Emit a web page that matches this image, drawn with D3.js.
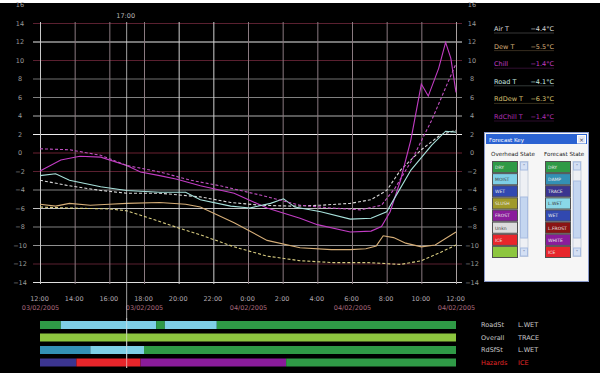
<!DOCTYPE html>
<html>
<head>
<meta charset="utf-8">
<script src="https://cdn.jsdelivr.net/npm/d3@7"></script>
<style>
  html, body { margin: 0; padding: 0; background: #fff; }
  svg { display: block; }
  text { font-family: "DejaVu Sans", "Liberation Sans", sans-serif; }
</style>
</head>
<body>
<svg id="chart" width="600" height="373"></svg>
<script>
// ---- axis ticks and labels ----
const hourTicks = [0, 2, 4, 6, 8, 10, 12, 14, 16, 18, 20, 22, 24];
const timeLabels = ["12:00", "14:00", "16:00", "18:00", "20:00", "22:00", "0:00",
                    "2:00", "4:00", "6:00", "8:00", "10:00", "12:00"];
const dateTicks = [0, 6, 12, 18, 24];
const dateLabels = ["03/02/2005", "03/02/2005", "04/02/2005", "04/02/2005", "04/02/2005"];
const gridTemps = [14, 12, 10, 8, 6, 4, 2, 0, -2, -4, -6, -8, -10, -12, -14];
const tempLabels = [16, 14, 12, 10, 8, 6, 4, 2, 0, -2, -4, -6, -8, -10, -12, -14];

// cursor position (hours after 12:00 on 03/02)
const cursorHour = 5;
const cursorLabel = "17:00";

// ---- temperature series: [hours after 12:00, °C] ----
const airT = [[0,-3.0],[1.7,-3.6],[3.5,-4.1],[5,-4.4],[6.9,-4.4],[9.25,-4.8],[11,-5.4],[12.7,-5.7],
  [14.5,-5.8],[16.2,-5.7],[17.9,-5.5],[19.1,-5.1],[20,-4.1],[20.8,-1.9],[22,0.3],[23.1,1.9],[24,2.4]];
const dewT = [[0,-5.6],[0.9,-5.8],[1.7,-5.5],[2.9,-5.7],[4,-5.6],[5,-5.5],[6.9,-5.4],[8.4,-5.6],
  [9.25,-5.9],[11.2,-7.6],[13.1,-9.5],[15,-10.3],[16.8,-10.5],[17.9,-10.5],[18.8,-10.4],[19.4,-10.1],
  [19.8,-9.0],[20.4,-9.2],[21.1,-9.8],[22,-10.2],[22.8,-10.0],[24,-8.6]];
const chill = [[0,-2.0],[1.2,-0.8],[2.3,-0.4],[3.5,-0.5],[5,-1.4],[5.8,-2.1],[6.9,-2.5],[7.9,-2.9],
  [9.25,-3.6],[11.2,-4.4],[13.1,-6.0],[15,-7.1],[16,-7.8],[17.9,-8.6],[19.1,-8.5],[19.7,-8.0],
  [20.2,-6.4],[20.8,-3.0],[21.4,1.4],[22,7.4],[22.4,6.1],[23,9.1],[23.4,11.9],[23.7,10.2],[24,6.5]];
const roadT = [[0,-2.5],[0.9,-2.3],[1.7,-3.0],[3.5,-3.7],[5,-4.1],[6.9,-4.3],[8.4,-4.3],[9.25,-5.1],
  [11,-5.8],[12.1,-6.0],[13.3,-5.5],[14.05,-5.0],[14.7,-5.9],[16.2,-6.4],[17.9,-7.2],[19.1,-7.1],
  [20,-6.4],[20.5,-4.8],[21.4,-1.9],[22.6,0.8],[23.4,2.3],[24,2.2]];
const rdDewT = [[0,-5.9],[1.7,-6.0],[4,-6.1],[5,-6.3],[6.65,-7.3],[7.9,-8.1],[9.25,-8.9],[11.2,-10.2],
  [13.1,-11.2],[15,-11.7],[16.9,-11.9],[18.9,-11.9],[20.8,-12.1],[22,-11.7],[23.1,-10.8],[24,-10.0]];
const rdChillT = [[0,0.4],[1.7,0.3],[3.5,-0.3],[5,-1.4],[6.9,-2.1],[8.7,-3.0],[10.4,-3.6],[12.7,-4.6],
  [15,-5.7],[16.8,-6.0],[18.5,-6.2],[19.7,-5.7],[20.5,-3.8],[21.4,-1.0],[22.6,3.5],[23.4,7.0],[24,9.6]];

const seriesNames = ["Air T", "Dew T", "Chill", "Road T", "RdDew T", "RdChill T"];
const seriesData = [airT, dewT, chill, roadT, rdDewT, rdChillT];

// ---- state strips: [start hour, end hour, state] ----
const stateRows = ["RoadSt", "Overall", "RdSfSt", "Hazards"];
const stateNow = ["L.WET", "TRACE", "L.WET", "ICE"];
const roadStSegs = [[0,1.2,"DRY"],[1.2,6.7,"MOIST"],[6.7,7.2,"DRY"],[7.2,10.2,"MOIST"],[10.2,24,"DRY"]];
const overallSegs = [[0,24,"FINE"]];
const rdSfStSegs = [[0,2.9,"DAMP"],[2.9,6,"MOIST"],[6,24,"DRY"]];
const hazardSegs = [[0,2.1,"TRACE"],[2.1,5.8,"ICE"],[5.8,14.2,"WHITE"],[14.2,24,"DRY"]];
const stateSegs = [roadStSegs, overallSegs, rdSfStSegs, hazardSegs];

// ---- forecast key entries ----
const overheadKey = ["DRY", "MOIST", "WET", "SLUSH", "FROST", "Unkn", "ICE", "FINE"];
const forecastKey = ["DRY", "DAMP", "TRACE", "L.WET", "WET", "L.FROST", "WHITE", "ICE"];

// ---------------- drawing ----------------
const svg = d3.select("#chart");
const W = 600, H = 373;

const stateColor = d3.scaleOrdinal()
  .domain(["DRY", "MOIST", "WET", "SLUSH", "FROST", "Unkn", "ICE", "FINE", "DAMP", "TRACE", "L.WET", "L.FROST", "WHITE"])
  .range(["#2f9a46", "#7ecfe6", "#3148b0", "#a09a2a", "#8a1c9b", "#dcdcdc", "#e8262b", "#8dc63f",
          "#3390b5", "#3b3590", "#8ad8e8", "#8a1414", "#8a1c9b"]);
const seriesColor = ["#d8d8d8", "#d6ae78", "#c23cc4", "#a8e2dc", "#d8cc80", "#c050c0"];
const seriesDash = ["3,2", null, null, null, "3,2", "3,2"];
const legendColor = ["#d8d8d8", "#d6ae78", "#c23cc4", "#c8e8e0", "#d8c070", "#b030b4"];
const hGridColor = ["#5a2030", "#e8e8e8", "#5a2030", "#707070", "#808080", "#b0b0b0", "#f0f0f0",
  "#6a2030", "#5a2030", "#808080", "#c0c0c0", "#808080", "#909090", "#5a2030", "#e0e0e0"];
const vGridColor = ["#c8c8c8", "#8a7a80", "#8a7a80", "#8a7a80", "#d0d0d0", "#d0d0d0", "#8a7a80",
  "#8a7a80", "#8a7a80", "#8a7a80", "#8a7a80", "#8a7a80", "#a8a0a0"];

svg.append("rect").attr("width", W).attr("height", H).attr("fill", "#000");
svg.append("rect").attr("width", W).attr("height", 3).attr("fill", "#fff");

const x = d3.scaleLinear().domain([0, 24]).range([40, 456]);
const y = d3.scaleLinear().domain([-14, 14]).range([282, 23]);

// horizontal grid
const gy = svg.append("g").attr("transform", "translate(33,0)")
  .call(d3.axisLeft(y).tickValues(gridTemps).tickSize(-429).tickFormat(""));
gy.select(".domain").remove();
gy.selectAll(".tick line").attr("stroke", (d, i) => hGridColor[i]).attr("stroke-width", 1);

// vertical grid
const gx = svg.append("g").attr("transform", "translate(0,284)")
  .call(d3.axisBottom(x).tickValues(hourTicks).tickSize(-262).tickFormat(""));
gx.select(".domain").remove();
gx.selectAll(".tick line").attr("stroke", (d, i) => vGridColor[i]).attr("stroke-width", 1);

// temperature labels, left and right
function tempAxis(xPos) {
  const g = svg.append("g").attr("transform", `translate(${xPos},0)`)
    .call(d3.axisLeft(y).tickValues(tempLabels).tickSize(0).tickPadding(0).tickFormat(d3.format("d")));
  g.select(".domain").remove();
  g.selectAll(".tick text").attr("x", 0).attr("text-anchor", "middle")
    .attr("fill", "#9a9a9a").attr("font-size", 6.5);
}
tempAxis(20);
tempAxis(472);

// time and date labels
const tx = svg.append("g").attr("transform", "translate(-1,296)")
  .call(d3.axisBottom(x).tickValues(hourTicks).tickSize(0).tickPadding(0)
    .tickFormat((d, i) => timeLabels[i]));
tx.select(".domain").remove();
tx.selectAll(".tick text").attr("fill", "#b0a8b0").attr("font-size", 6.5);

const dx = svg.append("g").attr("transform", "translate(0,305)")
  .call(d3.axisBottom(x).tickValues(dateTicks).tickSize(0).tickPadding(0)
    .tickFormat((d, i) => dateLabels[i]));
dx.select(".domain").remove();
dx.selectAll(".tick text").attr("fill", "#a8687c").attr("font-size", 6.5);

// series lines
const line = d3.line().x(d => x(d[0])).y(d => y(d[1]));
seriesData.forEach((data, i) => {
  svg.append("path").datum(data)
    .attr("d", line)
    .attr("fill", "none")
    .attr("stroke", seriesColor[i])
    .attr("stroke-width", 1.1)
    .attr("stroke-dasharray", seriesDash[i]);
});

// cursor
svg.append("line")
  .attr("x1", x(cursorHour)).attr("x2", x(cursorHour))
  .attr("y1", 22).attr("y2", 368)
  .attr("stroke", "#d8d8d8").attr("stroke-opacity", 0.75).attr("stroke-width", 1);
svg.append("text").attr("x", x(cursorHour) - 1).attr("y", 18)
  .attr("text-anchor", "middle").attr("fill", "#b8b8b8").attr("font-size", 6.5)
  .text(cursorLabel);

// readout at the cursor
function valueAt(data, h) {
  for (let k = 1; k < data.length; k++) {
    if (data[k][0] >= h) {
      const a = data[k - 1], b = data[k];
      return a[1] + (b[1] - a[1]) * (h - a[0]) / (b[0] - a[0]);
    }
  }
  return data[data.length - 1][1];
}
const legend = svg.append("g");
seriesNames.forEach((name, i) => {
  const yy = 31 + i * 17.6;
  legend.append("text").attr("x", 494).attr("y", yy)
    .attr("fill", legendColor[i]).attr("font-size", 6.5).text(name);
  legend.append("text").attr("x", 554).attr("y", yy).attr("text-anchor", "end")
    .attr("fill", legendColor[i]).attr("font-size", 6.5)
    .text(d3.format(".1f")(valueAt(seriesData[i], cursorHour)) + "°C");
  legend.append("line").attr("x1", 494).attr("x2", 554).attr("y1", yy + 2).attr("y2", yy + 2)
    .attr("stroke", legendColor[i]).attr("stroke-opacity", 0.25);
});

// state strips
const rowBand = d3.scaleBand().domain(stateRows).range([318.75, 368.75])
  .paddingInner(0.36).paddingOuter(0.18);
stateRows.forEach((row, r) => {
  svg.append("g").selectAll("rect").data(stateSegs[r]).join("rect")
    .attr("x", d => x(d[0])).attr("width", d => x(d[1]) - x(d[0]))
    .attr("y", rowBand(row)).attr("height", rowBand.bandwidth())
    .attr("fill", d => stateColor(d[2]));
  const cy = rowBand(row) + rowBand.bandwidth() / 2 + 2.3;
  const c = r === 3 ? "#e02828" : "#c8c8c8";
  svg.append("text").attr("x", 481).attr("y", cy).attr("fill", c).attr("font-size", 6.5).text(row);
  svg.append("text").attr("x", 518).attr("y", cy).attr("fill", c).attr("font-size", 6.5).text(stateNow[r]);
});
// cursor through the strips
svg.append("line")
  .attr("x1", x(cursorHour)).attr("x2", x(cursorHour))
  .attr("y1", 318).attr("y2", 368)
  .attr("stroke", "#e8e8e8").attr("stroke-opacity", 0.6);

// forecast key window
const key = svg.append("g");
key.append("rect").attr("x", 484.5).attr("y", 132.5).attr("width", 104).attr("height", 149)
  .attr("fill", "#f6f6f6").attr("stroke", "#8898c8");
key.append("rect").attr("x", 486).attr("y", 134).attr("width", 101).attr("height", 10)
  .attr("fill", "#2a62d2");
key.append("text").attr("x", 489).attr("y", 141.5).attr("fill", "#fff").attr("font-size", 5.5)
  .text("Forecast Key");
key.append("rect").attr("x", 577.5).attr("y", 135.5).attr("width", 8).attr("height", 7.5)
  .attr("fill", "#e6e8f2").attr("stroke", "#ffffff");
key.append("text").attr("x", 581.5).attr("y", 141.5).attr("text-anchor", "middle")
  .attr("fill", "#404060").attr("font-size", 6).text("×");
key.append("text").attr("x", 491).attr("y", 156).attr("fill", "#202020").attr("font-size", 5.6)
  .text("Overhead State");
key.append("text").attr("x", 544).attr("y", 156).attr("fill", "#202020").attr("font-size", 5.6)
  .text("Forecast State");

const keyBand = d3.scaleBand().domain(d3.range(8)).range([161, 257]).paddingInner(0.08);
function keyColumn(entries, x0, sbX, thumb) {
  entries.forEach((s, i) => {
    key.append("rect").attr("x", x0 + 0.5).attr("y", keyBand(i) + 0.5)
      .attr("width", 25).attr("height", keyBand.bandwidth())
      .attr("fill", stateColor(s)).attr("stroke", "#505050");
    if (s !== "FINE") {
      key.append("text").attr("x", x0 + 3).attr("y", keyBand(i) + 8)
        .attr("fill", s === "Unkn" || s === "MOIST" || s === "L.WET" ? "#404040" : "#e8e8e8")
        .attr("font-size", 4.5).text(s);
    }
  });
  key.append("rect").attr("x", sbX + 0.5).attr("y", 161.5).attr("width", 8).attr("height", 95)
    .attr("fill", "#eef0f4").attr("stroke", "#c8d0dc");
  key.append("rect").attr("x", sbX + 1).attr("y", thumb[0]).attr("width", 7).attr("height", thumb[1] - thumb[0])
    .attr("fill", "#c4d6f0").attr("stroke", "#a8bce0");
  [162, 248].forEach((by, j) => {
    key.append("rect").attr("x", sbX + 1).attr("y", by).attr("width", 7).attr("height", 8)
      .attr("fill", "#d4e0f4").attr("stroke", "#a8bce0");
    key.append("text").attr("x", sbX + 4.5).attr("y", by + 6).attr("text-anchor", "middle")
      .attr("fill", "#4d6185").attr("font-size", 5).text(j === 0 ? "˄" : "˅");
  });
}
keyColumn(overheadKey, 492, 519.5, [197, 238]);
keyColumn(forecastKey, 545, 572.5, [181, 238]);
</script>
</body>
</html>
